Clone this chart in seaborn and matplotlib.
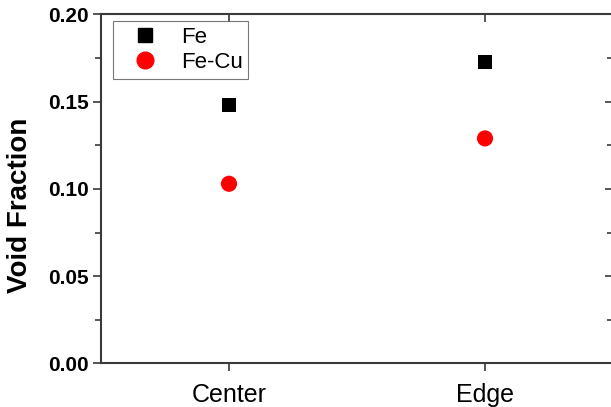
import pandas as pd
import matplotlib
matplotlib.use("Agg")
import matplotlib.pyplot as plt
import seaborn as sns
from matplotlib.ticker import MultipleLocator

# data
positions = ["Center", "Edge"]
fe_values = [0.148, 0.173]
fecu_values = [0.103, 0.129]
series_names = ["Fe", "Fe-Cu"]

df = pd.DataFrame({
    "position": positions * 2,
    "void": fe_values + fecu_values,
    "sample": [series_names[0]] * 2 + [series_names[1]] * 2,
})

sns.set_style("white")
plt.rcParams["font.family"] = ["Liberation Sans", "DejaVu Sans"]
plt.rcParams["text.color"] = "black"
plt.rcParams["xtick.color"] = "black"
plt.rcParams["ytick.color"] = "black"
plt.rcParams["axes.labelcolor"] = "black"

fig = plt.figure(figsize=(6.11, 4.07), dpi=100)
ax = fig.add_axes([0.1653, 0.1069, 0.8380, 0.8575])

sns.scatterplot(data=df, x="position", y="void", hue="sample", style="sample",
                palette={"Fe": "black", "Fe-Cu": "red"},
                markers={"Fe": "s", "Fe-Cu": "o"},
                size="sample", sizes={"Fe": 100, "Fe-Cu": 135},
                edgecolor="none", ax=ax, legend=False)

ax.set_xlim(-0.5, 1.5)
ax.set_ylim(0, 0.20)
ax.set_xticks([0, 1])
ax.set_xticklabels(positions, fontsize=18)
ax.yaxis.set_minor_locator(MultipleLocator(0.025))
ax.set_yticks([0, 0.05, 0.10, 0.15, 0.20])
ax.set_yticklabels(["0.00", "0.05", "0.10", "0.15", "0.20"], fontsize=15, fontweight="bold")
ax.set_xlabel("")
ax.set_ylabel("Void Fraction", fontsize=20, fontweight="bold")
ax.yaxis.set_label_coords(-0.133, 0.453)

spine_color = "#3a3a3a"
for s in ax.spines.values():
    s.set_color(spine_color)
    s.set_linewidth(1.5)

ax.tick_params(axis="both", which="both", direction="out", color=spine_color,
               left=True, bottom=True, top=False, right=False, width=1.2)
ax.tick_params(axis="y", which="major", length=6, pad=3)
ax.tick_params(axis="y", which="minor", length=4)
ax.tick_params(axis="x", which="major", length=6, pad=8)

# mirrored inward ticks on top and right
ax_r = ax.secondary_yaxis("right")
ax_r.yaxis.set_major_locator(MultipleLocator(0.05))
ax_r.yaxis.set_minor_locator(MultipleLocator(0.025))
ax_r.tick_params(which="both", direction="in", color=spine_color, width=1.2, labelright=False)
ax_r.tick_params(which="major", length=6)
ax_r.tick_params(which="minor", length=4)
ax_r.spines["right"].set_visible(False)

ax_t = ax.secondary_xaxis("top")
ax_t.set_xticks([0, 1])
ax_t.tick_params(direction="in", length=6, color=spine_color, width=1.2, labeltop=False)
ax_t.spines["top"].set_visible(False)

handles = [
    plt.Line2D([], [], linestyle="none", marker="s", markersize=10, color="black"),
    plt.Line2D([], [], linestyle="none", marker="o", markersize=12, color="red"),
]
leg = ax.legend(handles, series_names, loc="upper left", fontsize=16,
                bbox_to_anchor=(0.0234, 0.981), borderaxespad=0, fancybox=False,
                frameon=True, edgecolor="#555555", handletextpad=0.4,
                borderpad=0.25, labelspacing=0.2, handlelength=2.4)
leg.get_frame().set_linewidth(0.8)

fig.savefig("out.png", dpi=100)
